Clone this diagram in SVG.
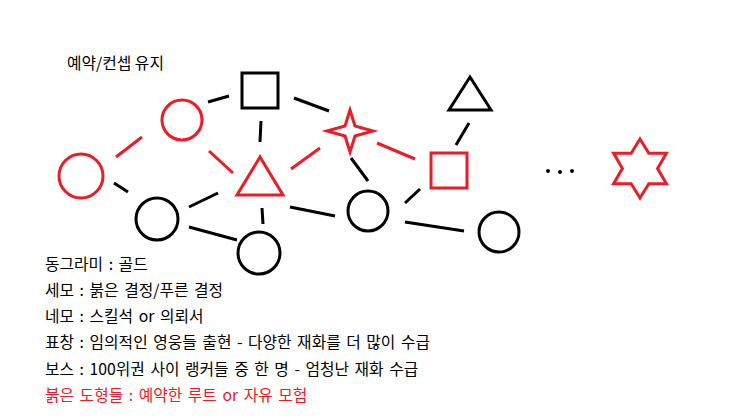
<svg xmlns="http://www.w3.org/2000/svg" width="743" height="418" viewBox="0 0 743 418">
<style>
.k{fill:none;stroke:#000;stroke-width:3}
.r{fill:none;stroke:#ED1C24;stroke-width:3}
.t{font-family:"Noto Sans CJK KR","Noto Sans",sans-serif;font-size:15.8px;word-spacing:2px;fill:#000}
.tr{fill:#ED1C24}
</style>
<rect width="743" height="418" fill="#fff"/>
<text class="t" x="67" y="69" style="word-spacing:0">예약/컨셉 유지</text>
<g id="connectors">
<line class="k" x1="208" y1="102" x2="229" y2="96"/>
<line class="k" x1="294" y1="98" x2="329" y2="111"/>
<line class="k" x1="261" y1="121" x2="260" y2="142"/>
<line class="r" x1="116" y1="157" x2="142" y2="137"/>
<line class="r" x1="209" y1="151" x2="233" y2="173"/>
<line class="r" x1="291" y1="169" x2="320" y2="148"/>
<line class="k" x1="114" y1="183" x2="128" y2="192"/>
<line class="k" x1="189" y1="207" x2="218" y2="193"/>
<line class="k" x1="262" y1="208" x2="263" y2="224"/>
<line class="k" x1="189" y1="227" x2="237" y2="240"/>
<line class="k" x1="290" y1="207" x2="335" y2="216"/>
<line class="r" x1="377" y1="143" x2="415" y2="159"/>
<line class="k" x1="351" y1="158" x2="368" y2="181"/>
<line class="k" x1="469" y1="123" x2="456" y2="145"/>
<line class="k" x1="405" y1="203" x2="420" y2="189"/>
<line class="k" x1="405" y1="222" x2="464" y2="231"/>
</g>
<g id="red-circle-left"><circle class="r" cx="81" cy="176" r="22"/></g>
<g id="red-circle-top"><circle class="r" cx="182" cy="120" r="20"/></g>
<g id="black-square-top"><rect class="k" x="242" y="73" width="36" height="35"/></g>
<g id="black-circle-left"><circle class="k" cx="157" cy="219" r="21"/></g>
<g id="red-triangle"><polygon class="r" points="260,157 237,195 283,195"/></g>
<g id="black-circle-bottom"><circle class="k" cx="259" cy="253" r="21"/></g>
<g id="red-star4"><polygon class="r" points="350,110 355,126 373,131 355,136 350,152 345,136 327,131 345,126"/></g>
<g id="black-circle-mid"><circle class="k" cx="368" cy="211" r="20"/></g>
<g id="red-square"><rect class="r" x="431" y="153" width="36" height="35"/></g>
<g id="black-triangle"><polygon class="k" points="470,77 449,110 491,110"/></g>
<g id="black-circle-right"><circle class="k" cx="499" cy="232" r="20"/></g>
<g id="ellipsis">
<circle cx="548" cy="171" r="2" fill="#000"/>
<circle cx="560" cy="172" r="2" fill="#000"/>
<circle cx="572" cy="171" r="2" fill="#000"/>
</g>
<g id="red-hexagram"><polygon class="r" points="640,139 648.8,153.3 666.4,153.3 657.6,168.5 666.4,183.7 648.8,183.7 640,198 631.2,183.7 613.6,183.7 622.4,168.5 613.6,153.3 631.2,153.3"/></g>
<g id="legend">
<text class="t" x="45" y="270">동그라미 : 골드</text>
<text class="t" x="45" y="296">세모 : 붉은 결정/푸른 결정</text>
<text class="t" x="45" y="322">네모 : 스킬석 or 의뢰서</text>
<text class="t" x="45" y="348">표창 : 임의적인 영웅들 출현 - 다양한 재화를 더 많이 수급</text>
<text class="t" x="45" y="375">보스 : 100위권 사이 랭커들 중 한 명 - 엄청난 재화 수급</text>
<text class="t tr" x="45" y="401">붉은 도형들 : 예약한 루트 or 자유 모험</text>
</g>
</svg>
